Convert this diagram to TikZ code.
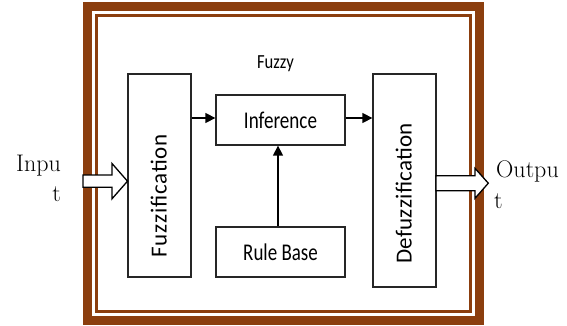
\documentclass[tikz,border=0pt]{standalone}
\usepackage{fontspec}
\usepackage{graphicx}
\newfontfamily\boxfont{Carlito}
\usetikzlibrary{arrows.meta,calc}
\definecolor{framebrown}{RGB}{139,62,14}
\begin{document}
\begin{tikzpicture}[x=1pt,y=-1pt,
  blk/.style={draw=black!85, line width=1.3pt, inner sep=0pt, fill=white, font=\boxfont\fontsize{24}{28}\selectfont},
  flow/.style={draw=black, line width=1.4pt, -{Triangle[length=10pt,width=10pt]}},
  hollow/.style={draw=black, line width=1.3pt, fill=white, line join=miter},
  rottxt/.style={inner sep=0pt, rotate=90, anchor=base},
  sertxt/.style={inner sep=0pt, font=\fontsize{24}{29}\selectfont},
  frameA/.style={draw=framebrown, line width=9pt},
  frameB/.style={draw=framebrown, line width=3pt}]
\useasboundingbox[fill=white] (0,0) rectangle (567,326);
% frames
\draw[frameA] (87.5,6.5) rectangle (479.5,320.5);
\draw[frameB] (96.5,15.5) rectangle (470,311);
% blocks
\node[blk, minimum width=63pt, minimum height=203pt] (fuzz) at (159.5,175.5) {};
\node[blk, minimum width=63pt, minimum height=213pt] (defuzz) at (404.5,180.5) {};
\node[blk, minimum width=129pt, minimum height=50pt] (inf) at (280.5,120) {\scalebox{0.795}[1]{Inference}};
\node[blk, minimum width=129pt, minimum height=50pt] (rb) at (280.5,252) {\scalebox{0.79}[1]{Rule Base}};
\node[rottxt, font=\boxfont\fontsize{23}{27}\selectfont\addfontfeatures{LetterSpace=3.5}] (fuzzlbl) at (166.5,195.8) {Fuzzification};
\node[rottxt, font=\boxfont\fontsize{23}{27}\selectfont\addfontfeatures{LetterSpace=1}] (defuzzlbl) at (411.5,193.3) {Defuzzification};
\node[inner sep=0pt, anchor=base, font=\boxfont\fontsize{20}{24}\selectfont] (fuzzy) at (275.5,68.3) {\scalebox{0.83}[1]{Fuzzy}};
% connectors
\draw[flow] ([yshift=2pt]fuzz.east |- inf.west) -- ([yshift=2pt]inf.west);
\draw[flow] ([yshift=2pt]inf.east) -- ([yshift=2pt]inf.east -| defuzz.west);
\draw[flow] ([xshift=-2.5pt]rb.north) -- ([xshift=-2.5pt]inf.south);
% hollow arrows
\coordinate (inTip) at (127.5,181.2);
\coordinate (outTip) at (488.3,183.2);
\draw[hollow] (inTip) -- ++(-15.5,-17.7) -- ++(0,11.5) -- ++(-29,0) -- ++(0,12.3) -- ++(29,0) -- ++(0,11.5) -- cycle;
\draw[hollow] (outTip) -- ++(-13.3,-14.9) -- ++(0,7.4) -- ++(-39,0) -- ++(0,15) -- ++(39,0) -- ++(0,7.6) -- cycle;
% input / output labels
\node[sertxt, anchor=base east] (inA) at (61,171.7) {Inpu};
\node[sertxt, anchor=base east] (inB) at (61,201.7) {t};
\node[sertxt, anchor=base west] (outA) at (496,177.7) {Outpu};
\node[sertxt, anchor=base west] (outB) at (494,208.3) {t};
\end{tikzpicture}
\end{document}
